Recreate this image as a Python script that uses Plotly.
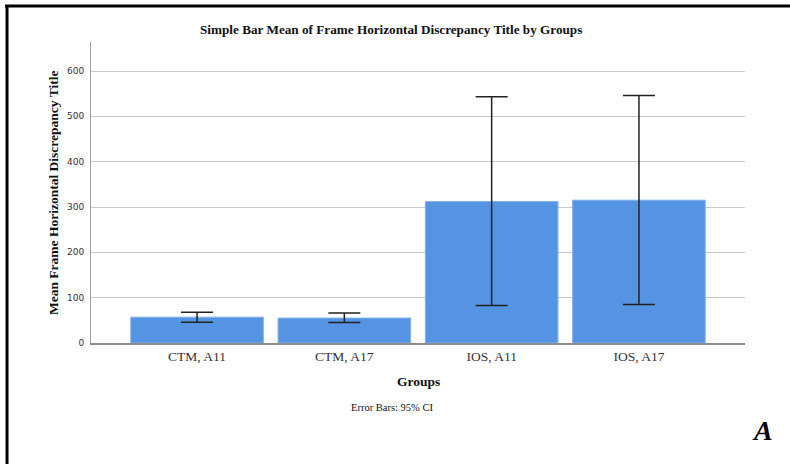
import plotly.graph_objects as go

# Group means with 95% confidence interval bounds
groups = ["CTM, A11", "CTM, A17", "IOS, A11", "IOS, A17"]
means = [57, 55, 312, 315]
ci_upper = [68, 66, 543, 546]
ci_lower = [46, 45, 83, 85]
y_ticks = [0, 100, 200, 300, 400, 500, 600]

err_plus = [u - m for u, m in zip(ci_upper, means)]
err_minus = [m - l for m, l in zip(means, ci_lower)]

W, H = 790, 464
L, R, T, B = 91, 45, 42, 121
plot_w = W - L - R
plot_h = H - T - B


def px(x):
    return (x - L) / plot_w


def py(y):
    return (H - B - y) / plot_h


serif = "Liberation Serif, Times New Roman, serif"

fig = go.Figure(
    go.Bar(
        x=list(range(len(groups))),
        y=means,
        width=0.9,
        marker=dict(color="#5594e2", line=dict(color="#7fb0ec", width=1)),
        error_y=dict(
            type="data",
            symmetric=False,
            array=err_plus,
            arrayminus=err_minus,
            color="#222222",
            thickness=1.5,
            width=16,
        ),
    )
)

fig.update_layout(
    width=W,
    height=H,
    margin=dict(l=L, r=R, t=T, b=B),
    paper_bgcolor="white",
    plot_bgcolor="white",
    showlegend=False,
    bargap=0.1,
    xaxis=dict(
        range=[-0.72, 3.72],
        tickmode="array",
        tickvals=list(range(len(groups))),
        ticktext=groups,
        showgrid=False,
        showline=True,
        linecolor="#8c8c8c",
        linewidth=1.5,
        ticks="",
        tickfont=dict(family=serif, size=13.5, color="#333333"),
        zeroline=False,
    ),
    yaxis=dict(
        range=[0, 664],
        tickmode="array",
        tickvals=y_ticks,
        showgrid=True,
        gridcolor="#c8c8c8",
        gridwidth=1.2,
        showline=True,
        linecolor="#a0a0a0",
        linewidth=1,
        ticks="",
        ticklabelstandoff=4,
        tickfont=dict(family="DejaVu Sans, Arial, sans-serif", size=9, color="#333333"),
        zeroline=False,
    ),
    annotations=[
        dict(text="<b>Simple Bar Mean of Frame Horizontal Discrepancy Title by Groups</b>",
             x=px(391), y=py(30), xref="paper", yref="paper", showarrow=False,
             font=dict(family=serif, size=13.2, color="#111111"), xanchor="center", yanchor="middle"),
        dict(text="<b>Mean Frame Horizontal Discrepancy Title</b>",
             x=px(53), y=py(193), xref="paper", yref="paper", showarrow=False, textangle=-90,
             font=dict(family=serif, size=13.5, color="#111111"), xanchor="center", yanchor="middle"),
        dict(text="<b>Groups</b>",
             x=px(418), y=py(381), xref="paper", yref="paper", showarrow=False,
             font=dict(family=serif, size=13.5, color="#111111"), xanchor="center", yanchor="middle"),
        dict(text="Error Bars: 95% CI",
             x=px(392), y=py(407), xref="paper", yref="paper", showarrow=False,
             font=dict(family=serif, size=10.5, color="#111111"), xanchor="center", yanchor="middle"),
        dict(text="<b><i>A</i></b>",
             x=px(762), y=py(430), xref="paper", yref="paper", showarrow=False,
             font=dict(family=serif, size=28, color="#000000"), xanchor="center", yanchor="middle"),
    ],
    shapes=[
        dict(type="line", xref="paper", yref="paper", x0=px(5), x1=px(W + 2), y0=py(6), y1=py(6),
             line=dict(color="#000000", width=3)),
        dict(type="line", xref="paper", yref="paper", x0=px(7), x1=px(7), y0=py(5), y1=py(H + 2),
             line=dict(color="#000000", width=3)),
    ],
)

fig.write_html("out.html")
